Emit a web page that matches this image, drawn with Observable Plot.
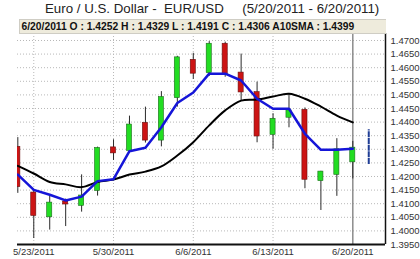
<!DOCTYPE html>
<html>
<head>
<meta charset="utf-8">
<script src="https://cdn.jsdelivr.net/npm/d3@7"></script>
<script src="https://cdn.jsdelivr.net/npm/@observablehq/plot@0.6"></script>
<style>
  html, body { margin: 0; padding: 0; background: #fff; }
  #wrap { position: relative; width: 420px; height: 259px; overflow: hidden; font-family: "Liberation Sans", Arial, sans-serif; }
  #wrap svg { position: absolute; left: 0; top: 0; }
  #title { position: absolute; left: 45px; top: 0; font-size: 13.3px; line-height: 17px; white-space: pre; color: #222; }
  #info { position: absolute; left: 19px; top: 19px; width: 367px; height: 15px; box-sizing: border-box;
          background: #eeebdc; border: 1px solid #cfcdc4; border-right: none; }
  #infoText { position: absolute; left: 21.5px; top: 19px; font-size: 10.3px; font-weight: bold; line-height: 15px; white-space: pre; color: #111; }
</style>
</head>
<body>
<div id="wrap">
  <div id="title"></div>
</div>
<script>
// ---- data ----
const titleText = "Euro / U.S. Dollar -  EUR/USD     (5/20/2011 - 6/20/2011)";
const infoText = "6/20/2011 O : 1.4252 H : 1.4329 L : 1.4191 C : 1.4306 A10SMA : 1.4399";

const dates = ["5/20/2011","5/23/2011","5/24/2011","5/25/2011","5/26/2011","5/27/2011",
  "5/30/2011","5/31/2011","6/1/2011","6/2/2011","6/3/2011",
  "6/6/2011","6/7/2011","6/8/2011","6/9/2011","6/10/2011",
  "6/13/2011","6/14/2011","6/15/2011","6/16/2011","6/17/2011","6/20/2011"];
const openV  = [1.4309,1.4141,1.4050,1.4108,1.4092,1.4147,1.4307,1.4294,1.4397,1.4332,1.4488,1.4629,1.4580,1.4688,1.4582,1.4510,1.4353,1.4416,1.4445,1.4183,1.4206,1.4252];
const highV  = [1.4343,1.4147,1.4128,1.4117,1.4206,1.4308,1.4335,1.4422,1.4455,1.4512,1.4642,1.4653,1.4696,1.4694,1.4650,1.4547,1.4431,1.4502,1.4452,1.4219,1.4339,1.4329];
const lowV   = [1.4138,1.3972,1.4003,1.4016,1.4069,1.4128,1.4259,1.4285,1.4323,1.4309,1.4455,1.4557,1.4568,1.4565,1.4478,1.4324,1.4300,1.4379,1.4155,1.4075,1.4127,1.4191];
const closeV = [1.4161,1.4055,1.4104,1.4097,1.4130,1.4305,1.4285,1.4391,1.4332,1.4492,1.4638,1.4578,1.4688,1.4574,1.4509,1.4347,1.4412,1.4443,1.4188,1.4218,1.4300,1.4306];
// blue moving average
const blueAvg = [1.4207,1.4151,1.4133,1.4112,1.4126,1.4183,1.4190,1.4293,1.4306,1.4381,1.4470,1.4509,1.4578,1.4578,1.4553,1.4486,1.4449,1.4449,1.4357,1.4298,1.4298,1.4302];
// black 10-day SMA
const sma10 = [1.4239,1.4211,1.4180,1.4171,1.4161,1.4180,1.4189,1.4207,1.4218,1.4237,1.4277,1.4326,1.4388,1.4443,1.4479,1.4483,1.4494,1.4504,1.4486,1.4457,1.4424,1.4399];
// next-day projected range
const projDate = "6/21/2011";
const projLow = 1.4244, projHigh = 1.4372;

const xTickLabels = ["5/23/2011","5/30/2011","6/6/2011","6/13/2011","6/20/2011"];
const currentDate = "6/20/2011";
const yTickLabels = ["1.3950","1.4000","1.4050","1.4100","1.4150","1.4200","1.4250","1.4300","1.4350","1.4400","1.4450","1.4500","1.4550","1.4600","1.4650","1.4700"];

// ---- build ----
const allDates = dates.concat([projDate]);
const idx = d => allDates.indexOf(d);
const candles = dates.map((d, i) => ({i, open: openV[i], high: highV[i], low: lowV[i], close: closeV[i], up: closeV[i] >= openV[i]}));
const blueData = blueAvg.map((v, i) => ({i, v}));
const blackData = sma10.map((v, i) => ({i, v}));
const yTicks = yTickLabels.map(Number);
const xTicks = xTickLabels.map(idx);
const halfW = 0.16;

document.getElementById("title").textContent = titleText;

const plot = Plot.plot({
  width: 420,
  height: 259,
  marginLeft: 17,
  marginRight: 35,
  marginTop: 33,
  marginBottom: 15,
  style: {fontFamily: "'Liberation Sans', Arial, sans-serif", background: "transparent", overflow: "visible"},
  x: {type: "linear", domain: [-0.02, 23.05]},
  y: {domain: [1.395, 1.47257]},
  marks: [
    Plot.gridY(yTicks, {stroke: "#b8b8b8", strokeOpacity: 1, strokeDasharray: "1,2"}),
    Plot.gridX(xTicks.filter(i => allDates[i] !== currentDate), {stroke: "#b8b8b8", strokeOpacity: 1, strokeDasharray: "1,2"}),
    Plot.ruleX([idx(currentDate)], {stroke: "#8c8c8c", strokeWidth: 1.5}),
    // wicks
    Plot.ruleX(candles, {x: "i", y1: "low", y2: "high", stroke: "#2a2a2a", strokeWidth: 1, clip: true}),
    // bodies
    Plot.rect(candles, {
      x1: d => d.i - halfW, x2: d => d.i + halfW,
      y1: "open", y2: "close",
      fill: d => d.up ? "#22dd22" : "#cc1414",
      stroke: d => d.up ? "#1d6b1d" : "#6a1010",
      strokeWidth: 0.6,
      clip: true
    }),
    Plot.line(blackData, {x: "i", y: "v", stroke: "#000", strokeWidth: 2, curve: "catmull-rom", clip: true}),
    Plot.line(blueData, {x: "i", y: "v", stroke: "#1515d8", strokeWidth: 2.5, clip: true}),
    // projected range
    Plot.ruleX([{d: projDate, lo: projLow, hi: projHigh}], {x: d => idx(d.d), y1: "lo", y2: "hi", stroke: "#1f3d95", strokeWidth: 2, strokeDasharray: "6,0.7"}),
    // axes
    Plot.ruleY([yTicks[0]], {stroke: "#111", strokeWidth: 2}),
    Plot.ruleX([23.05], {stroke: "#111", strokeWidth: 1.5}),
    Plot.axisY(yTicks, {anchor: "right", tickSize: 0, tickPadding: 5, fontSize: 9.5, tickFormat: (d, k) => yTickLabels[k], label: null, fill: "#333"}),
    Plot.axisX(xTicks, {anchor: "bottom", tickSize: 0, tickPadding: 4, fontSize: 9.5, tickFormat: i => allDates[i], label: null, fill: "#333"})
  ]
});

const wrap = document.getElementById("wrap");
wrap.appendChild(plot);
const info = document.createElement("div");
info.id = "info";
wrap.appendChild(info);
const it = document.createElement("div");
it.id = "infoText";
it.textContent = infoText;
wrap.appendChild(it);
</script>
</body>
</html>
